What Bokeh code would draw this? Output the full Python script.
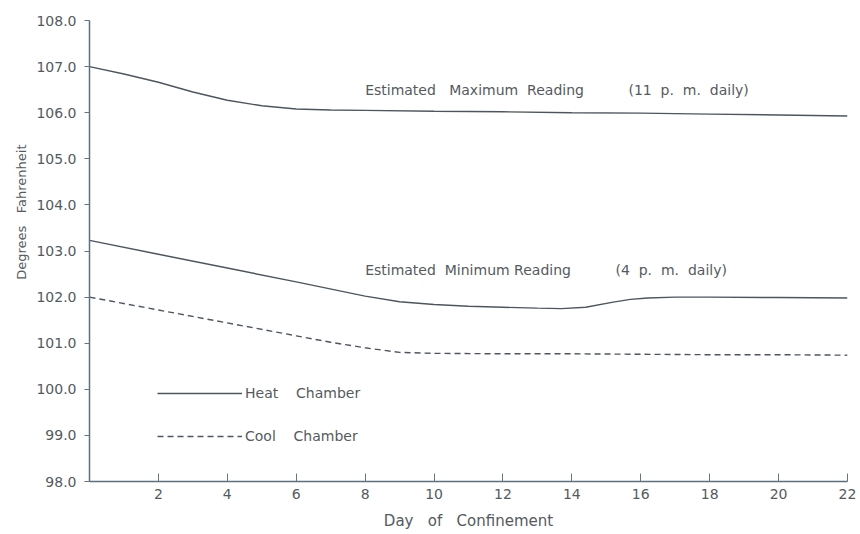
from bokeh.plotting import figure
from bokeh.models import Legend, LegendItem, FixedTicker, NumeralTickFormatter, Range1d, Title
from bokeh.core.properties import value
from bokeh.embed import file_html
from bokeh.resources import INLINE

# Data
days_max = [0, 1, 2, 3, 4, 5, 6, 7, 8, 10, 12, 14, 16, 18, 20, 22]
max_heat = [107.0, 106.84, 106.66, 106.45, 106.27, 106.15, 106.08, 106.06, 106.05, 106.03, 106.02, 106.0, 105.99, 105.97, 105.95, 105.93]

days_min = [0, 2, 4, 6, 8, 9, 10, 11, 12, 13, 13.7, 14.4, 15.2, 15.7, 16.2, 17, 18, 20, 22]
min_heat = [103.23, 102.93, 102.63, 102.33, 102.02, 101.9, 101.84, 101.8, 101.78, 101.76, 101.75, 101.78, 101.89, 101.95, 101.98, 102.0, 102.0, 101.99, 101.98]

days_cool = [0, 2, 4, 6, 7, 8, 9, 10, 12, 14, 16, 18, 20, 22]
cool = [102.0, 101.72, 101.44, 101.16, 101.02, 100.9, 100.8, 100.78, 100.77, 100.77, 100.76, 100.75, 100.75, 100.74]

x_ticks = [2, 4, 6, 8, 10, 12, 14, 16, 18, 20, 22]
y_ticks = [98, 99, 100, 101, 102, 103, 104, 105, 106, 107, 108]

NB = "\u00a0"
label_max = "Estimated" + NB * 3 + "Maximum" + NB * 2 + "Reading" + NB * 10 + "(11" + NB * 2 + "p." + NB * 2 + "m." + NB * 2 + "daily)"
label_min = "Estimated" + NB * 2 + "Minimum" + NB * 1 + "Reading" + NB * 10 + "(4" + NB * 2 + "p." + NB * 2 + "m." + NB * 2 + "daily)"
label_heat = "Heat" + NB * 4 + "Chamber"
label_cool = "Cool" + NB * 4 + "Chamber"

FONT = "DejaVu Sans"
TXT = "#555a5e"
LINE = "#4d5560"

p = figure(width=856, height=532, output_backend="svg", toolbar_location=None,
           x_range=Range1d(0, 22), y_range=Range1d(98, 108),
           min_border_left=89, min_border_right=9, min_border_top=20, min_border_bottom=51)
p.outline_line_color = None
p.xgrid.visible = False
p.ygrid.visible = False
p.background_fill_color = "white"

p.xaxis.ticker = FixedTicker(ticks=x_ticks)
p.yaxis.ticker = FixedTicker(ticks=y_ticks)
p.yaxis.formatter = NumeralTickFormatter(format="0.0")
for ax in (p.xaxis[0], p.yaxis[0]):
    ax.axis_line_color = "#5a6f80"
    ax.axis_line_width = 1.5
    ax.major_tick_line_color = "#6a7580"
    ax.minor_tick_line_color = None
    ax.major_label_text_font = FONT
    ax.major_label_text_font_size = "14px"
    ax.major_label_text_color = TXT
    ax.axis_label_text_font = FONT
    ax.axis_label_text_font_style = "normal"
    ax.axis_label_text_color = TXT

p.xaxis.major_tick_in = 8
p.xaxis.major_tick_out = 0
p.yaxis.major_tick_in = 0
p.yaxis.major_tick_out = 5
p.xaxis.axis_label = "Day" + NB * 3 + "of" + NB * 3 + "Confinement"
p.xaxis.axis_label_text_font_size = "15px"
p.xaxis.axis_label_standoff = 10
p.yaxis.major_label_standoff = 8
p.xaxis.major_label_standoff = 7

r_max = p.line(days_max, max_heat, line_color=LINE, line_width=1.4)
r_heat = p.line(days_min, min_heat, line_color=LINE, line_width=1.4)
r_cool = p.line(days_cool, cool, line_color=LINE, line_width=1.4, line_dash="6 4")

p.text(x=[8.0], y=[106.5], text=[label_max],
       text_font=value(FONT), text_font_size="14px", text_color=TXT, text_baseline="middle")
p.text(x=[8.0], y=[102.58], text=[label_min],
       text_font=value(FONT), text_font_size="14px", text_color=TXT, text_baseline="middle")

ytitle = Title(text="Degrees" + NB * 3 + "Fahrenheit", align="right", offset=124,
               text_font=FONT, text_font_size="13px", text_font_style="normal",
               text_color=TXT, standoff=10)
p.add_layout(ytitle, "left")

legend = Legend(items=[LegendItem(label=label_heat, renderers=[r_heat]),
                       LegendItem(label=label_cool, renderers=[r_cool])],
                location=(68, 35), glyph_width=85, glyph_height=20, label_standoff=3,
                spacing=23, padding=0, margin=0, border_line_color=None,
                background_fill_alpha=0, label_text_font=FONT, label_text_font_size="14px",
                label_text_color=TXT)
p.add_layout(legend)

open("out.html", "w").write(file_html(p, INLINE))
